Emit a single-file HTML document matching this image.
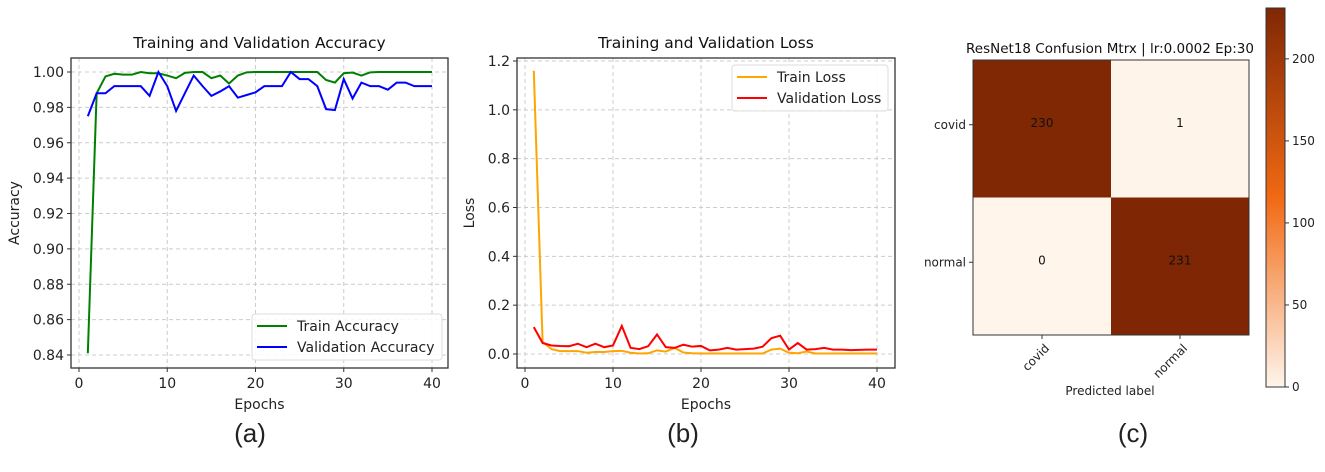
<!DOCTYPE html>
<html><head><meta charset="utf-8"><style>
body{margin:0;background:#fff;width:1325px;height:467px;overflow:hidden}
svg{font-family:"DejaVu Sans","Liberation Sans",sans-serif}
</style></head><body>
<svg id="s" width="1325" height="467" viewBox="0 0 1325 467"></svg>
<script>
const epochs=[];for(let i=1;i<=40;i++)epochs.push(i);
const trainAcc=[0.841,0.988,0.9975,0.999,0.9985,0.9985,1.0,0.9993,0.9993,0.998,0.9965,0.9995,1.0,1.0,0.9965,0.998,0.9935,0.998,0.9998,1.0,1.0,1.0,1.0,1.0,1.0,1.0,1.0,0.9955,0.994,0.9993,0.9997,0.998,0.9998,1.0,1.0,1.0,1.0,1.0,1.0,1.0];
const valAcc=[0.975,0.988,0.988,0.992,0.992,0.992,0.992,0.9865,1.0,0.992,0.978,0.988,0.998,0.992,0.9865,0.989,0.992,0.9855,0.987,0.9885,0.992,0.992,0.992,1.0,0.996,0.996,0.992,0.979,0.9785,0.996,0.985,0.994,0.992,0.992,0.990,0.994,0.994,0.992,0.992,0.992];
const trainLoss=[1.16,0.05,0.02,0.012,0.012,0.012,0.005,0.008,0.008,0.012,0.013,0.005,0.002,0.003,0.015,0.01,0.025,0.006,0.003,0.002,0.002,0.002,0.002,0.002,0.002,0.002,0.002,0.018,0.022,0.005,0.003,0.01,0.002,0.002,0.002,0.002,0.002,0.002,0.002,0.002];
const valLoss=[0.11,0.045,0.035,0.033,0.032,0.042,0.028,0.042,0.028,0.035,0.115,0.025,0.02,0.032,0.08,0.028,0.025,0.038,0.03,0.033,0.015,0.018,0.025,0.018,0.02,0.022,0.03,0.065,0.075,0.018,0.045,0.018,0.02,0.025,0.018,0.018,0.016,0.017,0.018,0.018];
const accTicks=[0.84,0.86,0.88,0.90,0.92,0.94,0.96,0.98,1.00];
const lossTicks=[0,0.2,0.4,0.6,0.8,1.0,1.2];
const xTicks=[0,10,20,30,40];
const classes=["covid","normal"];
const cm=[[230,1],[0,231]];
const cbTicks=[0,50,100,150,200];

const S=document.getElementById('s');const NS='http://www.w3.org/2000/svg';
function el(t,a,p,txt){const e=document.createElementNS(NS,t);for(const k in a)e.setAttribute(k,a[k]);if(txt!==undefined)e.textContent=txt;(p||S).appendChild(e);return e;}

function lineChart(o){
  const g=el('g',{});
  
  
  const X=v=>o.x0+(v-0)/(40-0)*(o.x1-o.x0);
  const Y=v=>o.y0+(v-o.v0)/(o.v1-o.v0)*(o.y1-o.y0);
  xTicks.forEach(t=>{el('line',{x1:X(t),x2:X(t),y1:o.top,y2:o.bot,stroke:'#ccc','stroke-dasharray':'4,3','stroke-width':1},g);
    el('line',{x1:X(t),x2:X(t),y1:o.bot,y2:o.bot+4,stroke:'#333'},g);
    const tx=el('text',{x:X(t),y:o.bot+20,'text-anchor':'middle','font-size':14,fill:'#222'},g,String(t));
    });
  o.ticks.forEach(t=>{el('line',{x1:o.left,x2:o.right,y1:Y(t),y2:Y(t),stroke:'#ccc','stroke-dasharray':'4,3','stroke-width':1},g);
    el('line',{x1:o.left-4,x2:o.left,y1:Y(t),y2:Y(t),stroke:'#333'},g);
    const tx=el('text',{x:o.left-7,y:Y(t)+5,'text-anchor':'end','font-size':14,fill:'#222'},g,t.toFixed(o.dec));
    });
  o.series.forEach(s=>{const p=el('polyline',{points:epochs.map((e,i)=>X(e)+','+Y(s.d[i])).join(' '),fill:'none',stroke:s.c,'stroke-width':2},g);
    });
  el('rect',{x:o.left,y:o.top,width:o.right-o.left,height:o.bot-o.top,fill:'none',stroke:'#333','stroke-width':1.3},g);
  const t=el('text',{x:(o.left+o.right)/2,y:o.top-10,'text-anchor':'middle','font-size':15.5,fill:'#111'},g,o.title);
  
  const xl=el('text',{x:(o.left+o.right)/2,y:409,'text-anchor':'middle','font-size':14,fill:'#222'},g,'Epochs');
  
  const yl=el('text',{x:o.ylx,y:(o.top+o.bot)/2,'text-anchor':'middle','font-size':14,fill:'#222',transform:`rotate(-90 ${o.ylx} ${(o.top+o.bot)/2})`},g,o.ylabel);
  
  const L=o.leg;
  const lg=el('g',{},g);
  el('rect',{x:L.x,y:L.y,width:L.w,height:46,rx:3,fill:'#fff','fill-opacity':0.85,stroke:'#ddd'},lg);
  o.series.forEach((s,i)=>{el('line',{x1:L.x+5,x2:L.x+35,y1:L.y+12+i*21,y2:L.y+12+i*21,stroke:s.c,'stroke-width':2},lg);
    const lt=el('text',{x:L.x+45,y:L.y+17+i*21,'font-size':14,fill:'#222'},lg,s.label);
    });
}
lineChart({name:'accuracy-chart',left:71,right:448,top:58,bot:368,x0:79,x1:432,v0:0.84,v1:1.0,y0:355,y1:72,ticks:accTicks,dec:2,title:'Training and Validation Accuracy',ylabel:'Accuracy',ylx:19,
  series:[{d:trainAcc,c:'#008000',label:'Train Accuracy',n:'train-accuracy-line'},{d:valAcc,c:'#0000ff',label:'Validation Accuracy',n:'validation-accuracy-line'}],leg:{x:252,y:314,w:190}});
lineChart({name:'loss-chart',left:517,right:895,top:58,bot:368,x0:525,x1:877,v0:0,v1:1.2,y0:354,y1:61,ticks:lossTicks,dec:1,title:'Training and Validation Loss',ylabel:'Loss',ylx:474,
  series:[{d:trainLoss,c:'#ffa500',label:'Train Loss',n:'train-loss-line'},{d:valLoss,c:'#ff0000',label:'Validation Loss',n:'validation-loss-line'}],leg:{x:732,y:65,w:156}});

// confusion matrix
const cx0=973,cx1=1249,cy0=60,cy1=335,vmax=231;
function col(v){const t=v/vmax;const a=[255,245,235],m=[241,105,19],b=[127,39,4];
  let c;if(t<0.5){const u=t/0.5;c=a.map((x,i)=>x+(m[i]-x)*u);}else{const u=(t-0.5)/0.5;c=m.map((x,i)=>x+(b[i]-x)*u);}
  return `rgb(${c.map(Math.round).join(',')})`;}
const cg=el('g',{});
const cw=(cx1-cx0)/2,ch=(cy1-cy0)/2;
cm.forEach((row,r)=>row.forEach((v,c)=>{const rc=el('rect',{x:cx0+c*cw,y:cy0+r*ch,width:cw,height:ch,fill:col(v)},cg);
  
  el('text',{x:cx0+c*cw+cw/2,y:cy0+r*ch+ch/2-2,'text-anchor':'middle','font-size':12,fill:'#111'},cg,String(v));}));
el('rect',{x:cx0,y:cy0,width:cx1-cx0,height:cy1-cy0,fill:'none',stroke:'#333'},cg);
classes.forEach((k,i)=>{const yy=cy0+i*ch+ch/2-4;el('line',{x1:cx0-4,x2:cx0,y1:yy,y2:yy,stroke:'#333'},cg);
  el('text',{x:cx0-7,y:yy+4,'text-anchor':'end','font-size':12,fill:'#222'},cg,k);
  const xx=cx0+i*cw+cw/2;el('line',{x1:xx,x2:xx,y1:cy1,y2:cy1+4,stroke:'#333'},cg);
  el('text',{x:xx+8,y:cy1+14,'text-anchor':'end','font-size':12,fill:'#222',transform:`rotate(-45 ${xx+8} ${cy1+14})`},cg,k);});
el('text',{x:1110,y:53,'text-anchor':'middle','font-size':13.5,fill:'#111'},cg,'ResNet18 Confusion Mtrx | lr:0.0002 Ep:30');
el('text',{x:1110,y:395,'text-anchor':'middle','font-size':12,fill:'#222'},cg,'Predicted label');
el('text',{x:910,y:198,'text-anchor':'middle','font-size':12,fill:'#222',transform:'rotate(-90 910 198)'},cg,'True label');
el('rect',{x:900,y:150,width:10,height:100,fill:'#fff'});
// colorbar
const bx=1266,bw=19,by0=387,by1=8;
const CY=v=>by0+(v/vmax)*(by1-by0);
const defs=el('defs',{});const gr=el('linearGradient',{id:'cb',x1:0,y1:1,x2:0,y2:0},defs);
for(let i=0;i<=10;i++)el('stop',{offset:i/10,'stop-color':col(vmax*i/10)},gr);
const cb=el('rect',{x:bx,y:by1,width:bw,height:by0-by1,fill:'url(#cb)',stroke:'#333'});

cbTicks.forEach(t=>{el('line',{x1:bx+bw,x2:bx+bw+4,y1:CY(t),y2:CY(t),stroke:'#333'});
  el('text',{x:bx+bw+7,y:CY(t)+4,'font-size':12,fill:'#222'},S,String(t));});
[['(a)',250],['(b)',683],['(c)',1133]].forEach(([t,x])=>{const e=el('text',{x:x,y:442,'text-anchor':'middle','font-size':26,fill:'#222','font-family':'Liberation Sans, sans-serif'},S,t);
  });
</script>
</body></html>
